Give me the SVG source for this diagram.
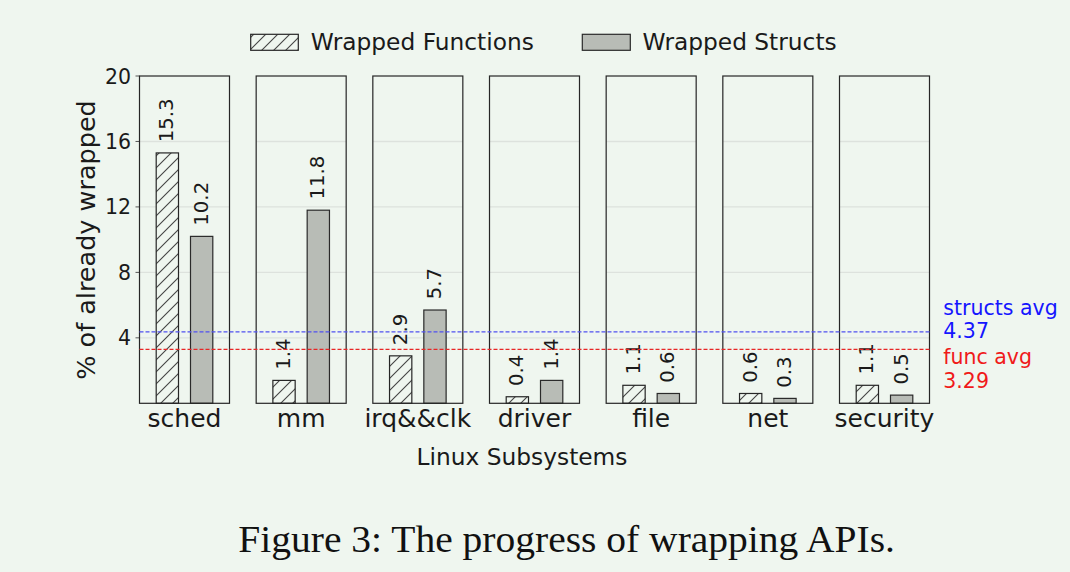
<svg xmlns="http://www.w3.org/2000/svg" width="1070" height="572" viewBox="0 0 1070 572">
<style>
text{font-family:"DejaVu Sans","Liberation Sans",sans-serif;fill:#1a1a1a}
.frame{fill:none;stroke:#262626;stroke-width:1.2}
.grid{stroke:#dde2dd;stroke-width:1.4}
.func{fill:url(#hatch);stroke:#262626;stroke-width:1.2}
.struct{fill:#b8bcb6;stroke:#2a2a2a;stroke-width:1.2}
.val{font-size:19.7px}
.cat{font-size:25px;text-anchor:middle}
.tick{font-size:20.5px;text-anchor:end}
.tk{stroke:#555;stroke-width:1}
</style>
<defs>
<pattern id="hatch" patternUnits="userSpaceOnUse" width="12" height="12">
<rect width="12" height="12" fill="#eff6ef"/>
<path d="M-3,3 L3,-3 M0,12 L12,0 M9,15 L15,9" stroke="#444" stroke-width="1.1"/>
</pattern>
</defs>
<rect width="1070" height="572" fill="#eff6ef"/>

<g id="legend">
<rect x="250.7" y="34.3" width="47.6" height="16" class="func"/>
<text x="310.7" y="50.3" font-size="23.3">Wrapped Functions</text>
<rect x="582.3" y="34.3" width="48" height="16" class="struct"/>
<text x="642.4" y="50.3" font-size="23.3">Wrapped Structs</text>
</g>

<g id="y-axis">
<line class="tk" x1="135.5" y1="76" x2="139.5" y2="76"/>
<line class="tk" x1="135.5" y1="141.46" x2="139.5" y2="141.46"/>
<line class="tk" x1="135.5" y1="206.92" x2="139.5" y2="206.92"/>
<line class="tk" x1="135.5" y1="272.38" x2="139.5" y2="272.38"/>
<line class="tk" x1="135.5" y1="337.84" x2="139.5" y2="337.84"/>
<text class="tick" x="131" y="83.5">20</text>
<text class="tick" x="131" y="149">16</text>
<text class="tick" x="131" y="214.4">12</text>
<text class="tick" x="131" y="279.9">8</text>
<text class="tick" x="131" y="345.3">4</text>
<text transform="translate(95,240) rotate(-90)" font-size="25.5" text-anchor="middle">% of already wrapped</text>
</g>

<g id="panel-sched">
<line class="grid" x1="139.5" y1="141.46" x2="229.5" y2="141.46"/><line class="grid" x1="139.5" y1="206.92" x2="229.5" y2="206.92"/><line class="grid" x1="139.5" y1="272.38" x2="229.5" y2="272.38"/><line class="grid" x1="139.5" y1="337.84" x2="229.5" y2="337.84"/>
<rect class="func" x="156.2" y="152.92" width="22.3" height="250.38"/>
<rect class="struct" x="190.5" y="236.38" width="22.3" height="166.92"/>
<rect class="frame" x="139.5" y="76" width="90" height="327.3"/>
<text class="val" transform="translate(173.35,142.22) rotate(-90)">15.3</text>
<text class="val" transform="translate(207.65,225.68) rotate(-90)">10.2</text>
<text class="cat" x="184.5" y="427.3">sched</text>
</g>

<g id="panel-mm">
<line class="grid" x1="256.17" y1="141.46" x2="346.17" y2="141.46"/><line class="grid" x1="256.17" y1="206.92" x2="346.17" y2="206.92"/><line class="grid" x1="256.17" y1="272.38" x2="346.17" y2="272.38"/><line class="grid" x1="256.17" y1="337.84" x2="346.17" y2="337.84"/>
<rect class="func" x="272.87" y="380.39" width="22.3" height="22.91"/>
<rect class="struct" x="307.17" y="210.19" width="22.3" height="193.11"/>
<rect class="frame" x="256.17" y="76" width="90" height="327.3"/>
<text class="val" transform="translate(290.02,369.69) rotate(-90)">1.4</text>
<text class="val" transform="translate(324.32,199.49) rotate(-90)">11.8</text>
<text class="cat" x="301.17" y="427.3">mm</text>
</g>

<g id="panel-irq-clk">
<line class="grid" x1="372.83" y1="141.46" x2="462.83" y2="141.46"/><line class="grid" x1="372.83" y1="206.92" x2="462.83" y2="206.92"/><line class="grid" x1="372.83" y1="272.38" x2="462.83" y2="272.38"/><line class="grid" x1="372.83" y1="337.84" x2="462.83" y2="337.84"/>
<rect class="func" x="389.53" y="355.84" width="22.3" height="47.46"/>
<rect class="struct" x="423.83" y="310.02" width="22.3" height="93.28"/>
<rect class="frame" x="372.83" y="76" width="90" height="327.3"/>
<text class="val" transform="translate(406.68,345.14) rotate(-90)">2.9</text>
<text class="val" transform="translate(440.98,299.32) rotate(-90)">5.7</text>
<text class="cat" x="417.83" y="427.3">irq&amp;&amp;clk</text>
</g>

<g id="panel-driver">
<line class="grid" x1="489.5" y1="141.46" x2="579.5" y2="141.46"/><line class="grid" x1="489.5" y1="206.92" x2="579.5" y2="206.92"/><line class="grid" x1="489.5" y1="272.38" x2="579.5" y2="272.38"/><line class="grid" x1="489.5" y1="337.84" x2="579.5" y2="337.84"/>
<rect class="func" x="506.2" y="396.75" width="22.3" height="6.55"/>
<rect class="struct" x="540.5" y="380.39" width="22.3" height="22.91"/>
<rect class="frame" x="489.5" y="76" width="90" height="327.3"/>
<text class="val" transform="translate(523.35,386.05) rotate(-90)">0.4</text>
<text class="val" transform="translate(557.65,369.69) rotate(-90)">1.4</text>
<text class="cat" x="534.5" y="427.3">driver</text>
</g>

<g id="panel-file">
<line class="grid" x1="606.17" y1="141.46" x2="696.17" y2="141.46"/><line class="grid" x1="606.17" y1="206.92" x2="696.17" y2="206.92"/><line class="grid" x1="606.17" y1="272.38" x2="696.17" y2="272.38"/><line class="grid" x1="606.17" y1="337.84" x2="696.17" y2="337.84"/>
<rect class="func" x="622.87" y="385.3" width="22.3" height="18"/>
<rect class="struct" x="657.17" y="393.48" width="22.3" height="9.82"/>
<rect class="frame" x="606.17" y="76" width="90" height="327.3"/>
<text class="val" transform="translate(640.02,374.6) rotate(-90)">1.1</text>
<text class="val" transform="translate(674.32,382.78) rotate(-90)">0.6</text>
<text class="cat" x="651.17" y="427.3">file</text>
</g>

<g id="panel-net">
<line class="grid" x1="722.83" y1="141.46" x2="812.83" y2="141.46"/><line class="grid" x1="722.83" y1="206.92" x2="812.83" y2="206.92"/><line class="grid" x1="722.83" y1="272.38" x2="812.83" y2="272.38"/><line class="grid" x1="722.83" y1="337.84" x2="812.83" y2="337.84"/>
<rect class="func" x="739.53" y="393.48" width="22.3" height="9.82"/>
<rect class="struct" x="773.83" y="398.39" width="22.3" height="4.91"/>
<rect class="frame" x="722.83" y="76" width="90" height="327.3"/>
<text class="val" transform="translate(756.68,382.78) rotate(-90)">0.6</text>
<text class="val" transform="translate(790.98,387.69) rotate(-90)">0.3</text>
<text class="cat" x="767.83" y="427.3">net</text>
</g>

<g id="panel-security">
<line class="grid" x1="839.5" y1="141.46" x2="929.5" y2="141.46"/><line class="grid" x1="839.5" y1="206.92" x2="929.5" y2="206.92"/><line class="grid" x1="839.5" y1="272.38" x2="929.5" y2="272.38"/><line class="grid" x1="839.5" y1="337.84" x2="929.5" y2="337.84"/>
<rect class="func" x="856.2" y="385.3" width="22.3" height="18"/>
<rect class="struct" x="890.5" y="395.12" width="22.3" height="8.18"/>
<rect class="frame" x="839.5" y="76" width="90" height="327.3"/>
<text class="val" transform="translate(873.35,374.6) rotate(-90)">1.1</text>
<text class="val" transform="translate(907.65,384.42) rotate(-90)">0.5</text>
<text class="cat" x="884.5" y="427.3">security</text>
</g>

<g id="connectors">
<line x1="139.5" y1="331.8" x2="929.5" y2="331.8" stroke="#5050f0" stroke-width="1.3" stroke-dasharray="4,2"/>
<line x1="139.5" y1="349.4" x2="929.5" y2="349.4" stroke="#e82626" stroke-width="1.1" stroke-dasharray="4,2"/>
</g>

<g id="annotations">
<text x="943.3" y="315" font-size="20.5" style="fill:#1515ff">structs avg</text>
<text x="943.3" y="338.3" font-size="20.5" style="fill:#1515ff">4.37</text>
<text x="943.3" y="364" font-size="20.5" style="fill:#f01a1a">func avg</text>
<text x="943.3" y="388.3" font-size="20.5" style="fill:#f01a1a">3.29</text>
</g>

<text x="522" y="465" font-size="23.3" text-anchor="middle">Linux Subsystems</text>

<text x="238.3" y="551.7" font-size="38.5" textLength="656.7" lengthAdjust="spacingAndGlyphs" style="font-family:'Liberation Serif','Times New Roman',serif;fill:#111">Figure 3: The progress of wrapping APIs.</text>
</svg>
